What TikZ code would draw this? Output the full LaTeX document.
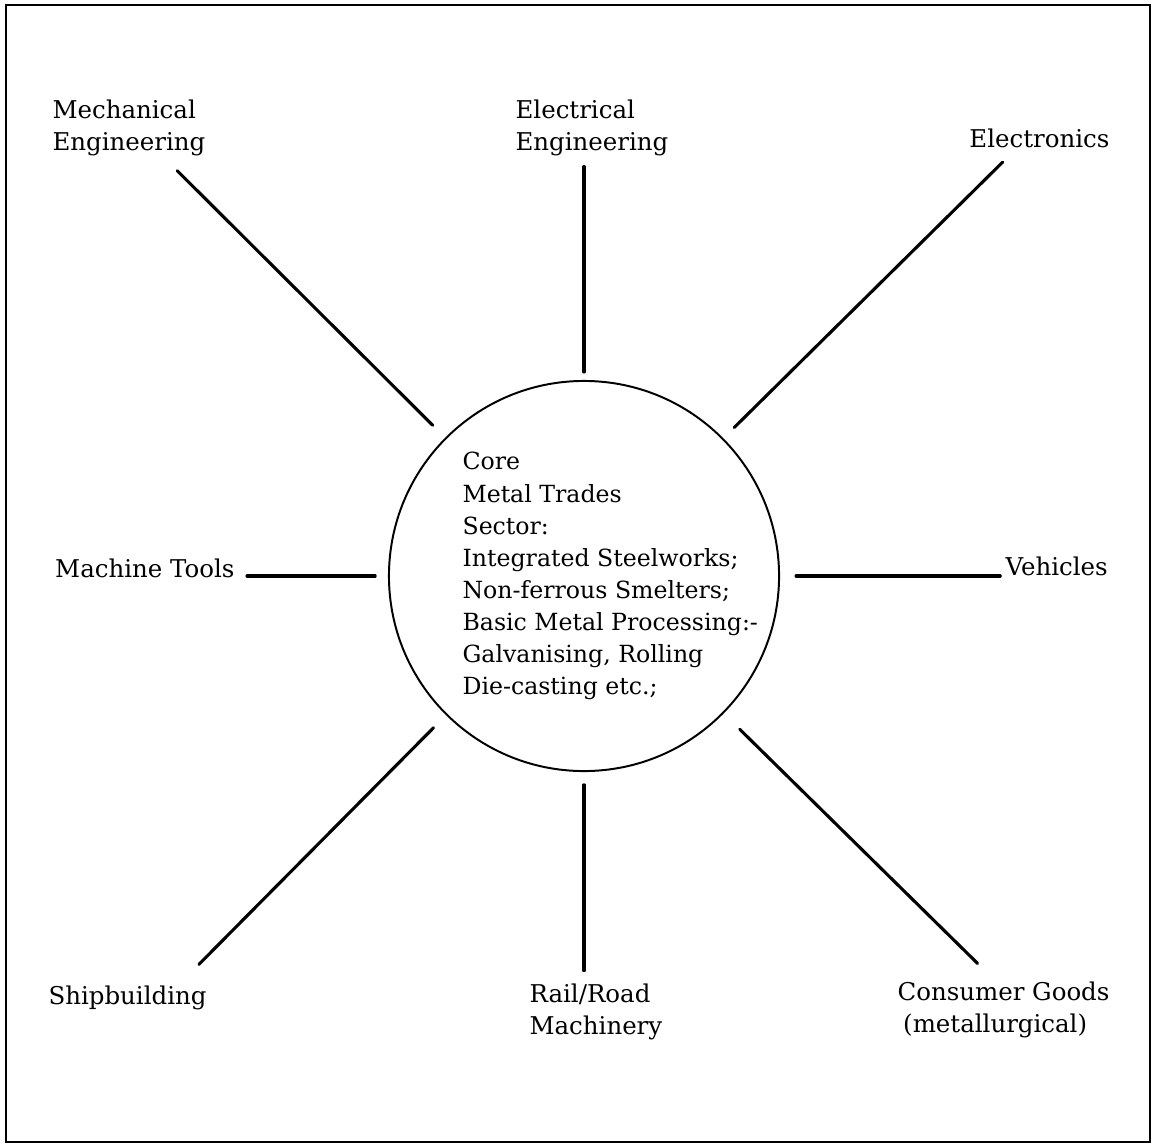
\documentclass[tikz,border=0pt]{standalone}
\usepackage{fontspec}
\setmainfont{DejaVu Serif}
\usetikzlibrary{positioning, calc}

\begin{document}
\begin{tikzpicture}[
    x=0.0125cm, y=-0.0125cm,
    lbl/.style={font=\fontsize{8.7}{11.4}\selectfont, align=left, inner sep=0pt},
    hub/.style={circle, draw, line width=0.7pt, minimum size=4.875cm, inner sep=0pt},
    spoke/.style={line width=1.1pt, line cap=round},
    diag/.style={spoke, shorten <=0.22cm, shorten >=0.25cm}
]
    \useasboundingbox (0,0) rectangle (1154,1146);
    % --- 1. Frame ---
    \draw[line width=1pt] (6,5) rectangle (1150,1142);
    % --- 2. Core sector (circle in the middle) ---
    \node (core) [hub] at (584,576) {};
    \node (sector) [lbl, font=\fontsize{8.4}{11.4}\selectfont, anchor=west] at (462,576)
        {Core\\Metal Trades\\Sector:\\Integrated Steelworks;\\Non-ferrous Smelters;\\Basic Metal Processing:-\\Galvanising, Rolling\\Die-casting etc.;};
    % --- 3. Outer sectors ---
    \node (mech) [lbl, anchor=west] at (52,128) {Mechanical\\Engineering};
    \node (elec) [lbl, anchor=west] at (515,128) {Electrical\\Engineering};
    \node (elex) [lbl, anchor=east] at (1110,138) {Electronics};
    \node (tools) [lbl, anchor=east] at (235,568) {Machine Tools};
    \node (veh) [lbl, anchor=west] at (1005,566) {Vehicles};
    \node (ship) [lbl, anchor=west] at (48,998) {Shipbuilding};
    \node (rail) [lbl, anchor=west] at (529,1012) {Rail/Road\\Machinery};
    \node (cons) [lbl, anchor=west] at (897,1010) {Consumer Goods\\\hspace*{2pt}(metallurgical)};
    % --- 4. Spokes from the core ---
    \draw[diag] (core) -- (mech.-40);
    \draw[spoke, shorten <=0.1cm, shorten >=0.125cm] (core.north) -- (core.north |- elec.south);
    \draw[diag, shorten <=0.19cm] (core) -- (elex.204);
    \draw[spoke, shorten <=0.16cm, shorten >=0.15cm] (core.west) -- (core.west -| tools.east);
    \draw[spoke, shorten <=0.2cm, shorten >=0.06cm] (core.east) -- (core.east -| veh.west);
    \draw[diag, shorten >=0.37cm] (core) -- (ship.14);
    \draw[spoke, shorten <=0.16cm, shorten >=0.16cm] (core.south) -- (core.south |- rail.north);
    \draw[diag, shorten <=0.28cm, shorten >=0.32cm] (core) -- (cons.105);
\end{tikzpicture}
\end{document}
